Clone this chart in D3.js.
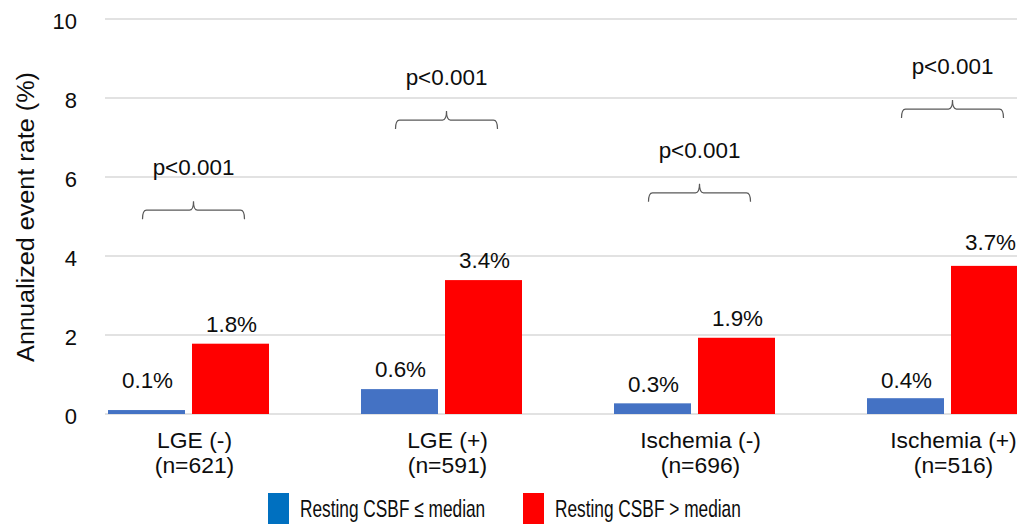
<!DOCTYPE html>
<html>
<head>
<meta charset="utf-8">
<script src="https://cdn.jsdelivr.net/npm/d3@7"></script>
<style>
  body { margin: 0; background: #fff; }
  text { font-family: "Liberation Sans", Arial, sans-serif; fill: #0d0d0d; }
</style>
</head>
<body>
<div id="chart"></div>
<script>
const width = 1017;
const height = 524;

// data
const groups = ["LGE (-)", "LGE (+)", "Ischemia (-)", "Ischemia (+)"];
const groupN = ["(n=621)", "(n=591)", "(n=696)", "(n=516)"];
const series = ["Resting CSBF \u2264 median", "Resting CSBF > median"];
const lowValues = [0.1, 0.63, 0.27, 0.4];
const highValues = [1.78, 3.39, 1.93, 3.75];
const lowLabels = ["0.1%", "0.6%", "0.3%", "0.4%"];
const highLabels = ["1.8%", "3.4%", "1.9%", "3.7%"];
const pTexts = ["p<0.001", "p<0.001", "p<0.001", "p<0.001"];
const braceLevels = [5.16, 7.44, 5.6, 7.72];
const yTicks = [0, 2, 4, 6, 8, 10];

const colors = ["#4472C4", "#FF0000"];
const legendColors = ["#0070C0", "#FF0000"];
// small hand nudges of the value labels (px), as in the original
const lowNudge = [-10, 0, 1, 2];
const highNudge = [0, 0, 0, -4];

const svg = d3.select("#chart")
    .append("svg")
    .attr("width", width)
    .attr("height", height);

const y = d3.scaleLinear().domain([0, 10]).range([414, 19]);

const x0 = d3.scaleBand()
    .domain(groups)
    .range([62, 1074])
    .paddingInner(92 / 253)
    .paddingOuter(46 / 253);

const x1 = d3.scaleBand()
    .domain([0, 1])
    .range([0, x0.bandwidth()])
    .paddingInner(1 / 12);

// text with a slight horizontal stretch like the picture
function label(g, x, yy, str, size, sx, anchor) {
    return g.append("text")
        .attr("transform", `translate(${x},${yy}) scale(${sx},1)`)
        .attr("text-anchor", anchor || "middle")
        .style("font-size", size + "px")
        .text(str);
}

// gridlines
svg.append("g")
    .selectAll("line")
    .data(yTicks)
    .enter()
    .append("line")
    .attr("x1", 105)
    .attr("x2", width)
    .attr("y1", d => y(d))
    .attr("y2", d => y(d))
    .attr("stroke", "#d9d9d9")
    .attr("stroke-width", 1.3);

// y tick labels
const yLab = svg.append("g");
yTicks.forEach(t => label(yLab, 77, y(t) + 10, t, 22, 1.0, "end"));

// y title
svg.append("text")
    .attr("transform", "translate(34,217) rotate(-90) scale(1.05,1)")
    .attr("text-anchor", "middle")
    .style("font-size", "24px")
    .text("Annualized event rate (%)");

// bars
const bars = svg.append("g");
groups.forEach((g, i) => {
    const vals = [lowValues[i], highValues[i]];
    const labs = [lowLabels[i], highLabels[i]];
    const nudge = [lowNudge[i], highNudge[i]];
    vals.forEach((v, j) => {
        const bx = x0(g) + x1(j);
        bars.append("rect")
            .attr("x", bx)
            .attr("y", y(v))
            .attr("width", x1.bandwidth())
            .attr("height", y(0) - y(v))
            .attr("fill", colors[j]);
        label(bars, bx + x1.bandwidth() / 2 + 1, y(v) - 12 + nudge[j], labs[j], 22, 1.02);
    });
});

// braces with p values
const braces = svg.append("g");
groups.forEach((g, i) => {
    const xc = x0(g) + x0.bandwidth() / 2 + 5;
    const w = 51;
    const Y = y(braceLevels[i]);
    const path = d3.path();
    path.moveTo(xc - w, Y + 9);
    path.quadraticCurveTo(xc - w, Y, xc - w + 4, Y);
    path.lineTo(xc - 4, Y);
    path.quadraticCurveTo(xc, Y, xc, Y - 9);
    path.quadraticCurveTo(xc, Y, xc + 4, Y);
    path.lineTo(xc + w - 4, Y);
    path.quadraticCurveTo(xc + w, Y, xc + w, Y + 9);
    braces.append("path")
        .attr("d", path.toString())
        .attr("fill", "none")
        .attr("stroke", "#595959")
        .attr("stroke-width", 1.2);
    label(braces, xc, Y - 35, pTexts[i], 22, 1.02);
});

// category labels
const cats = svg.append("g");
groups.forEach((g, i) => {
    const cx = x0(g) + x0.bandwidth() / 2 + 6;
    label(cats, cx, 448, g, 22, 1.04);
    label(cats, cx, 473, groupN[i], 22, 1.04);
});

// legend
const legendX = [268, 523];
const leg = svg.append("g");
series.forEach((s, i) => {
    leg.append("rect")
        .attr("x", legendX[i])
        .attr("y", 493)
        .attr("width", 21)
        .attr("height", 31)
        .attr("fill", legendColors[i]);
    label(leg, legendX[i] + 32, 517, s, 24, 0.72, "start");
});
</script>
</body>
</html>
